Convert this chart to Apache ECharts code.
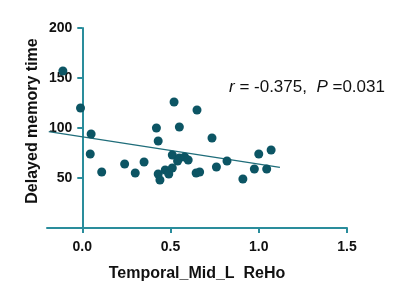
<!DOCTYPE html>
<html>
<head>
<meta charset="utf-8">
<script src="https://cdn.jsdelivr.net/npm/echarts@6/dist/echarts.min.js"></script>
<style>
html, body { margin: 0; padding: 0; background: #fff; }
#chart { width: 400px; height: 296px; }
</style>
</head>
<body>
<div id="chart"></div>
<script>
// ReHo value vs delayed memory time, one pair per subject
const rehoValues = [
    -0.11, -0.01, 0.05, 0.045, 0.11, 0.24, 0.30, 0.35, 0.42, 0.43, 0.43,
    0.44, 0.47, 0.49, 0.51, 0.52, 0.55, 0.65, 0.735, 0.51, 0.55, 0.54,
    0.58, 0.60, 0.645, 0.665, 0.76, 0.82, 0.91, 0.975, 1.045, 1.0, 1.07,
]
const memoryTimes = [
    157, 120, 94, 74, 56, 64, 55, 66, 100, 87, 54,
    48, 58, 54, 60, 126, 101, 118, 90, 73, 70, 67,
    71, 68, 55, 56, 61, 67, 49, 59, 59, 74, 78,
]
// fitted line, read at both ends
const fitLine = [[-0.19, 96.4], [1.12, 60.6]]
const xTicks = [0, 0.5, 1.0, 1.5]
const xMin = -0.2
const xMax = 1.5

const axisColor = '#2a8d9c'
const dotColor = '#0c5564'
const font = 'Liberation Sans'

const gridLeft = 47
const gridRight = 53
// y axis sits at x = 0, shift it in from the grid edge
const yShift = -(0 - xMin) / (xMax - xMin) * (400 - gridLeft - gridRight)

const chart = echarts.init(document.getElementById('chart'))

chart.setOption({
    animation: false,
    grid: { left: gridLeft, right: gridRight, top: 28, bottom: 68, outerBoundsMode: 'none' },
    xAxis: {
        type: 'value',
        min: xMin,
        max: xMax,
        name: 'Temporal_Mid_L  ReHo',
        nameLocation: 'middle',
        nameGap: 38,
        nameMoveOverlap: false,
        nameTextStyle: { color: '#111', fontSize: 16, fontWeight: 'bold', fontFamily: font },
        axisLine: { show: true, onZero: false, lineStyle: { color: axisColor, width: 2 } },
        axisTick: { show: true, customValues: xTicks, length: 5, lineStyle: { color: axisColor, width: 2 } },
        axisLabel: {
            customValues: xTicks,
            margin: 12,
            color: '#111',
            fontSize: 14,
            fontWeight: 'bold',
            fontFamily: font,
            formatter: v => v.toFixed(1),
        },
        splitLine: { show: false },
    },
    yAxis: {
        type: 'value',
        min: 0,
        max: 200,
        interval: 50,
        offset: yShift,
        name: 'Delayed memory time',
        nameLocation: 'middle',
        nameGap: 42,
        nameMoveOverlap: false,
        nameTextStyle: { color: '#111', fontSize: 16, fontWeight: 'bold', fontFamily: font, padding: [0, 0, 0, 14] },
        axisLine: { show: true, onZero: false, lineStyle: { color: axisColor, width: 2 } },
        axisTick: { show: true, length: 5, lineStyle: { color: axisColor, width: 2 } },
        axisLabel: {
            margin: 10,
            color: '#111',
            fontSize: 14,
            fontWeight: 'bold',
            fontFamily: font,
            formatter: v => (v === 0 ? '' : String(v)),
        },
        splitLine: { show: false },
    },
    series: [
        {
            type: 'line',
            data: fitLine,
            showSymbol: false,
            lineStyle: { color: '#1f6d7a', width: 1.3 },
            z: 1,
        },
        {
            type: 'scatter',
            data: rehoValues.map((x, i) => [x, memoryTimes[i]]),
            symbolSize: 9,
            itemStyle: { color: dotColor, opacity: 1 },
            z: 2,
        },
    ],
    graphic: [
        {
            type: 'text',
            left: 229,
            top: 79,
            style: {
                text: '{i|r} = -0.375,  {i|P} =0.031',
                fill: '#111',
                fontSize: 17,
                fontFamily: font,
                rich: {
                    i: { fontStyle: 'italic', fontSize: 17, fontFamily: font, fill: '#111' },
                },
            },
        },
    ],
})
</script>
</body>
</html>
